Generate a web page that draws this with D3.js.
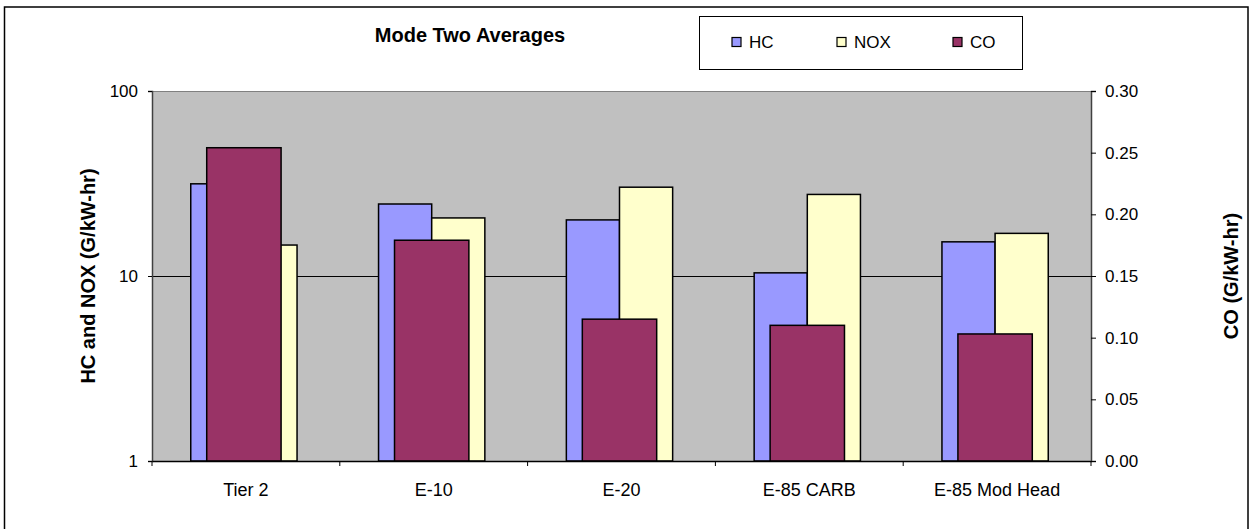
<!DOCTYPE html>
<html><head><meta charset="utf-8">
<script src="https://cdn.jsdelivr.net/npm/d3@7"></script>
<style>
html,body{margin:0;padding:0;background:#fff;}
svg{display:block;font-family:"Liberation Sans",Arial,sans-serif;}
</style></head>
<body>
<svg id="chart" width="1249" height="529"></svg>
<script>
const categories = ["Tier 2", "E-10", "E-20", "E-85 CARB", "E-85 Mod Head"];
const hcValues  = [31.5, 24.5, 20.1, 10.4, 15.3];
const noxValues = [14.7, 20.6, 30.2, 27.6, 17.0];
const coValues  = [0.254, 0.179, 0.115, 0.110, 0.103];
const leftTicks = [1, 10, 100];
const rightTicks = [0, 0.05, 0.10, 0.15, 0.20, 0.25, 0.30];
const seriesNames = ["HC", "NOX", "CO"];
const seriesColors = ["#9999FF", "#FFFFCC", "#993366"];

const svg = d3.select("#chart");
const L = 152, R = 1091, T = 91, B = 461;

// outer border
svg.append("rect").attr("x",4.5).attr("y",7).attr("width",1243.5).attr("height",540)
  .attr("fill","#fff").attr("stroke","#000").attr("stroke-width",1.5);

const x = d3.scaleBand().domain(categories).range([L, R]);
const yL = d3.scaleLog().domain([1, 100]).range([B, T]);
const yR = d3.scaleLinear().domain([0, 0.30]).range([B, T]);

// plot area
svg.append("rect").attr("x",L).attr("y",T).attr("width",R-L).attr("height",B-T).attr("fill","#C0C0C0");

// gridlines (major, left axis)
svg.append("g").selectAll("line").data(leftTicks.filter(d=>d>1)).join("line")
  .attr("x1",L).attr("x2",R).attr("y1",d=>Math.round(yL(d))+0.5).attr("y2",d=>Math.round(yL(d))+0.5)
  .attr("stroke",d=>d===100?"#808080":"#000").attr("stroke-width",1);

const bw = x.bandwidth();
const pairW = bw*0.566, coW = bw*0.396, shift = -2;
const sub = d3.scaleBand().domain(["HC","NOX"]).range([0, pairW]);

const rows = categories.map((c,i)=>({c, hc:hcValues[i], nox:noxValues[i], co:coValues[i]}));
const g = svg.append("g");
rows.forEach(r=>{
  const cx = x(r.c) + bw/2 + shift;
  const x0 = cx - pairW/2;
  g.append("rect").attr("x",x0+sub("HC")).attr("y",yL(r.hc)).attr("width",sub.bandwidth()).attr("height",B-yL(r.hc))
    .attr("fill",seriesColors[0]).attr("stroke","#000").attr("stroke-width",1.5);
  g.append("rect").attr("x",x0+sub("NOX")).attr("y",yL(r.nox)).attr("width",sub.bandwidth()).attr("height",B-yL(r.nox))
    .attr("fill",seriesColors[1]).attr("stroke","#000").attr("stroke-width",1.5);
  g.append("rect").attr("x",cx-coW/2).attr("y",yR(r.co)).attr("width",coW).attr("height",B-yR(r.co))
    .attr("fill",seriesColors[2]).attr("stroke","#000").attr("stroke-width",1.5);
});

const fs = "17px";
// left axis
const la = svg.append("g").attr("transform",`translate(${L},0)`)
  .call(d3.axisLeft(yL).tickValues(leftTicks).tickFormat(d3.format("d")).tickSize(4).tickPadding(10));
la.select(".domain").attr("stroke","#404040").attr("stroke-width",1.5);
la.selectAll("line").attr("stroke","#000");
la.selectAll("text").attr("font-size",fs).attr("fill","#000").attr("font-family","Liberation Sans, Arial, sans-serif");

// right axis
const ra = svg.append("g").attr("transform",`translate(${R},0)`)
  .call(d3.axisRight(yR).tickValues(rightTicks).tickFormat(d3.format(".2f")).tickSize(5).tickPadding(9));
ra.select(".domain").attr("stroke","#404040").attr("stroke-width",1.5);
ra.selectAll("line").attr("stroke","#000");
ra.selectAll("text").attr("font-size",fs).attr("fill","#000").attr("font-family","Liberation Sans, Arial, sans-serif");

// bottom axis
const ba = svg.append("g").attr("transform",`translate(0,${B})`)
  .call(d3.axisBottom(x).tickSize(0).tickPadding(22));
ba.select(".domain").attr("stroke","#000").attr("stroke-width",1.5);
ba.selectAll("text").attr("font-size","18px").attr("fill","#000").attr("font-family","Liberation Sans, Arial, sans-serif");
svg.append("g").selectAll("line").data(d3.range(categories.length+1)).join("line")
  .attr("x1",i=>L + i*bw).attr("x2",i=>L + i*bw).attr("y1",B).attr("y2",B+5)
  .attr("stroke","#000").attr("stroke-width",1);

// titles
svg.append("text").attr("x",470).attr("y",42).attr("text-anchor","middle")
  .attr("font-size","20px").attr("font-weight","bold").text("Mode Two Averages");
svg.append("text").attr("transform",`translate(95,${(T+B)/2}) rotate(-90)`).attr("text-anchor","middle")
  .attr("font-size","20px").attr("font-weight","bold").text("HC and NOX (G/kW-hr)");
svg.append("text").attr("transform",`translate(1238,${(T+B)/2}) rotate(-90)`).attr("text-anchor","middle")
  .attr("font-size","20px").attr("font-weight","bold").text("CO (G/kW-hr)");

// legend
const lg = svg.append("g");
lg.append("rect").attr("x",699.5).attr("y",16.5).attr("width",323).attr("height",53)
  .attr("fill","#fff").attr("stroke","#000").attr("stroke-width",1);
const legX = [732, 837, 953];
seriesNames.forEach((n,i)=>{
  lg.append("rect").attr("x",legX[i]).attr("y",37.5).attr("width",9).attr("height",9)
    .attr("fill",seriesColors[i]).attr("stroke","#000").attr("stroke-width",1.2);
  lg.append("text").attr("x",legX[i]+17).attr("y",48).attr("font-size","17px").text(n);
});
</script>
</body></html>
